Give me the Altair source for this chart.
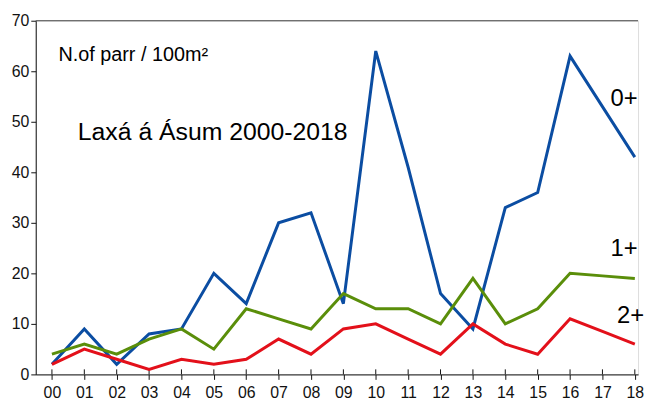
import altair as alt
import pandas as pd

years = list(range(19))
age0 = [2, 9, 2, 8, 9, 20, 14, 30, 32, 14, 64, 41, 16, 9, 33, 36, 63, 53, 43]
age1 = [4, 6, 4, 7, 9, 5, 13, 11, 9, 16, 13, 13, 10, 19, 10, 13, 20, 19.5, 19]
age2 = [2, 5, 3, 1, 3, 2, 3, 7, 4, 9, 10, 7, 4, 10, 6, 4, 11, 8.5, 6]

series_names = ["0+", "1+", "2+"]
series_colors = ["#0B4DA2", "#5A8E0A", "#E3101A"]

rows = []
for name, vals in zip(series_names, [age0, age1, age2]):
    for x, v in zip(years, vals):
        rows.append({"year": x, "value": v, "series": name})
df = pd.DataFrame(rows)

label_x = [17.25, 17.25, 17.45]
label_y = [54.5, 24.9, 11.6]
labels_df = pd.DataFrame({"x": label_x, "y": label_y, "text": series_names})

unit_df = pd.DataFrame({"x": [0.2], "y": [63.3], "text": ["N.of parr / 100m²"]})
title_df = pd.DataFrame({"x": [0.8], "y": [48.0], "text": ["Laxá á Ásum 2000-2018"]})
tick_df = pd.DataFrame({"year": years, "lo": [0] * len(years), "hi": [1] * len(years)})

FONT = "Liberation Sans"
xscale = alt.Scale(domain=[-0.5, 18.1], nice=False, zero=False)
yscale = alt.Scale(domain=[0, 70], nice=False)

lines = alt.Chart(df).mark_line(strokeWidth=3, strokeJoin="miter").encode(
    x=alt.X("year:Q", scale=xscale,
            axis=alt.Axis(values=years, tickCount=40, title=None, grid=False,
                          labelExpr="datum.value < 10 ? '0' + datum.value : '' + datum.value",
                          labelFontSize=16, labelFont=FONT, labelColor="#111",
                          ticks=True, tickSize=5, tickColor="#111", domainColor="#111",
                          labelPadding=5, labelFlush=False, labelOverlap=False,
                          labelBound=False)),
    y=alt.Y("value:Q", scale=yscale,
            axis=alt.Axis(values=[0, 10, 20, 30, 40, 50, 60, 70], title=None, grid=False,
                          labelFontSize=16, labelFont=FONT, labelColor="#111",
                          tickSize=5, tickColor="#111", domainColor="#111",
                          labelPadding=2, labelOverlap=False)),
    color=alt.Color("series:N", scale=alt.Scale(domain=series_names, range=series_colors), legend=None),
)

xticks = alt.Chart(tick_df).mark_rule(color="#111", strokeWidth=1).encode(
    x=alt.X("year:Q", scale=xscale), y=alt.Y("lo:Q", scale=yscale), y2="hi:Q"
)

top_rule = alt.Chart(pd.DataFrame({"y": [70]})).mark_rule(color="#444", strokeWidth=1).encode(
    y=alt.Y("y:Q", scale=yscale)
)

series_text = alt.Chart(labels_df).mark_text(align="left", baseline="middle", fontSize=24, font=FONT, color="#000").encode(
    x=alt.X("x:Q", scale=xscale), y=alt.Y("y:Q", scale=yscale), text="text:N"
)

unit_text = alt.Chart(unit_df).mark_text(align="left", baseline="middle", fontSize=20, font=FONT, color="#000").encode(
    x=alt.X("x:Q", scale=xscale), y=alt.Y("y:Q", scale=yscale), text="text:N"
)

title_text = alt.Chart(title_df).mark_text(align="left", baseline="middle", fontSize=25, font=FONT, color="#000").encode(
    x=alt.X("x:Q", scale=xscale), y=alt.Y("y:Q", scale=yscale), text="text:N"
)

chart = alt.layer(top_rule, xticks, lines, series_text, unit_text, title_text).properties(
    width=608, height=357, padding={"left": 3, "top": 3, "right": 0, "bottom": 0}
).configure_view(stroke=None).configure(background="white")

chart.save("out.html", embed_options={"renderer": "svg", "actions": False})
